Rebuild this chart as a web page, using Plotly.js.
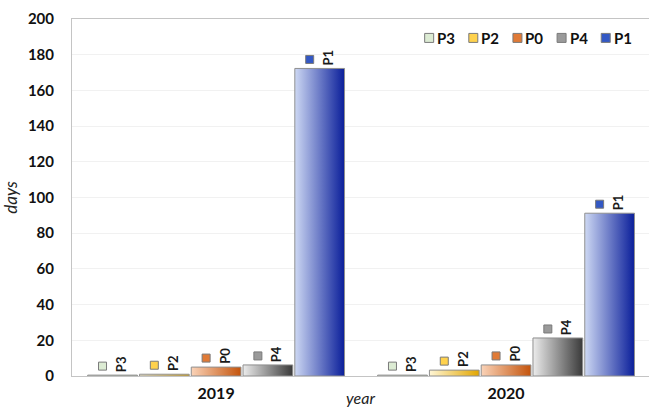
<!DOCTYPE html>
<html><head><meta charset="utf-8">
<script src="https://cdn.plot.ly/plotly-3.0.1.min.js"></script>
<style>html,body{margin:0;padding:0;background:#fff;}#chart{width:649px;height:407px;}</style>
</head><body><div id="chart"></div>
<script>
const years = ['2019', '2020'];
const seriesNames = ['P3', 'P2', 'P0', 'P4', 'P1'];
const P3 = [0.5, 0.5];
const P2 = [1, 3.3];
const P0 = [5, 6.2];
const P4 = [6.2, 21.3];
const P1 = [172.3, 91.2];
const seriesValues = [P3, P2, P0, P4, P1];

const solid = ['#dcebd3', '#ffd24d', '#e07a36', '#9a9a9a', '#3358c4'];
const gradStops = [
  ['#f4f9f0', '#cfe3c3'],
  ['#fff6d6', '#e2a600'],
  ['#fad3b8', '#c4540c'],
  ['#ececec', '#3a3a3a'],
  ['#cdd8f3', '#0a1e9a']
];

const bargap = 0.107;
const nS = seriesNames.length;
const slot = (1 - bargap) / nS;
const fam = 'Lato, Carlito, sans-serif';

const traces = seriesNames.map((n, i) => ({
  type: 'bar', name: n, x: years, y: seriesValues[i],
  marker: {color: solid[i], line: {color: '#8f8f8f', width: 1}},
  showlegend: false, hoverinfo: 'skip'
}));

const annotations = [];
const shapes = [];
const labelFont = {family: fam, size: 13, color: '#1a1a1a', weight: 'bold'};
seriesNames.forEach((n, i) => {
  years.forEach((yr, c) => {
    const xc = c + (i - (nS - 1) / 2) * slot;
    const v = seriesValues[i][c];
    annotations.push({x: xc, y: v, xref: 'x', yref: 'y', text: n, showarrow: false,
      textangle: -90, xanchor: 'center', yanchor: 'bottom', xshift: 8.5, yshift: 1, font: labelFont});
    shapes.push({type: 'rect', xref: 'x', yref: 'y', xsizemode: 'pixel', ysizemode: 'pixel',
      xanchor: xc, yanchor: v, x0: -14, x1: -6, y0: 5, y1: 13,
      fillcolor: solid[i], line: {color: '#7a7a7a', width: 1}});
  });
});

// legend (custom, compact like the original)
const legX0 = 0.619, legStep = 0.0765, legY = 0.947;
seriesNames.forEach((n, i) => {
  const lx = legX0 + i * legStep;
  shapes.push({type: 'rect', xref: 'paper', yref: 'paper', xsizemode: 'pixel', ysizemode: 'pixel',
    xanchor: lx, yanchor: legY, x0: -4.5, x1: 4.5, y0: -4.5, y1: 4.5,
    fillcolor: solid[i], line: {color: '#7a7a7a', width: 1}});
  annotations.push({x: lx, y: legY, xref: 'paper', yref: 'paper', text: n, showarrow: false,
    xanchor: 'left', yanchor: 'middle', xshift: 6, font: {family: fam, size: 15, color: '#111', weight: 'bold'}});
});

const layout = {
  width: 649, height: 407,
  margin: {l: 72, r: 0, t: 19, b: 31},
  paper_bgcolor: '#fff', plot_bgcolor: '#fff',
  barmode: 'group', bargap: bargap, bargroupgap: 0.04,
  xaxis: {type: 'category', range: [-0.497, 1.493], showgrid: false, zeroline: false,
    showline: true, mirror: true, linecolor: '#c4c4c4', linewidth: 1, ticks: '',
    tickfont: {family: fam, size: 16, color: '#111', weight: 'bold'},
    ticklabelstandoff: 3,
    title: {text: 'year', font: {family: fam, size: 16, color: '#222', style: 'italic'}, standoff: 3}},
  yaxis: {range: [0, 200], dtick: 20, showgrid: true, gridcolor: '#f1f1f1', zeroline: false,
    showline: true, mirror: true, linecolor: '#c4c4c4', linewidth: 1, ticks: '',
    tickfont: {family: fam, size: 15, color: '#111', weight: 'bold'},
    ticklabelstandoff: 14,
    title: {text: 'days', font: {family: fam, size: 17, color: '#222', style: 'italic'}, standoff: 10}},
  annotations: annotations, shapes: shapes, showlegend: false
};

const gd = document.getElementById('chart');
Plotly.newPlot(gd, traces, layout, {staticPlot: true, displayModeBar: false}).then(() => {
  const svg = gd.querySelector('svg.main-svg');
  const ns = 'http://www.w3.org/2000/svg';
  let defs = svg.querySelector('defs');
  if (!defs) { defs = document.createElementNS(ns, 'defs'); svg.insertBefore(defs, svg.firstChild); }
  gradStops.forEach((st, i) => {
    const lg = document.createElementNS(ns, 'linearGradient');
    lg.setAttribute('id', 'grad' + i);
    lg.setAttribute('x1', '0'); lg.setAttribute('x2', '1'); lg.setAttribute('y1', '0'); lg.setAttribute('y2', '0');
    [[0, st[0]], [1, st[1]]].forEach(([o, c]) => {
      const s = document.createElementNS(ns, 'stop');
      s.setAttribute('offset', o); s.setAttribute('stop-color', c);
      lg.appendChild(s);
    });
    defs.appendChild(lg);
  });
  gd.querySelectorAll('.barlayer .trace').forEach((t, i) => {
    t.querySelectorAll('.point path').forEach(p => { p.style.fill = 'url(#grad' + i + ')'; });
  });
});
</script></body></html>
